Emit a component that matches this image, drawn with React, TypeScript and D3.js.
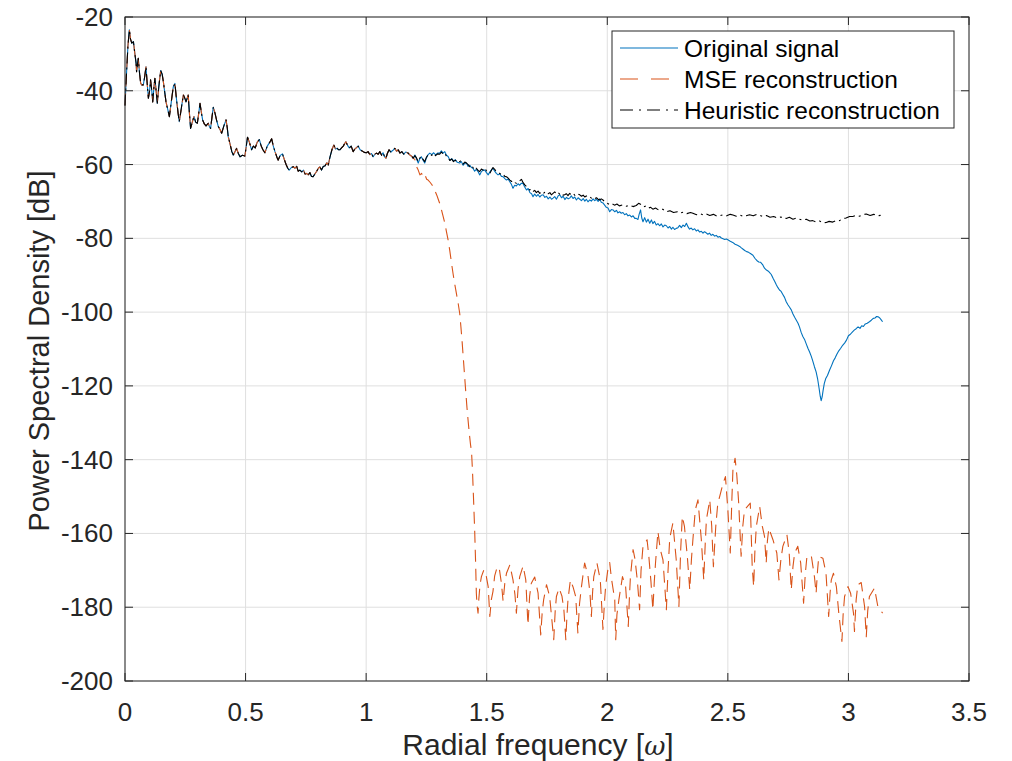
import React from "react";
import * as d3 from "d3";

type Pt = [number, number];

// Shared low-frequency portion (all three curves coincide here)
const sharedLowBand: Pt[] = [
  [0,-44],[0.005,-37],[0.012,-28],[0.018,-23.5],[0.023,-26],[0.028,-27.1],[0.035,-26.7],[0.041,-30],[0.046,-32.5],[0.048,-34.8],[0.055,-31.2],[0.060,-35],[0.065,-38],[0.070,-38.4],[0.076,-38.4],[0.082,-36],[0.087,-33.5],[0.092,-38],[0.097,-42],[0.102,-40],[0.106,-37],[0.111,-40],[0.115,-43],[0.120,-39],[0.124,-36.6],[0.129,-40],[0.134,-43.4],[0.140,-39],[0.148,-34.5],[0.154,-35.5],[0.159,-37.5],[0.165,-40.5],[0.170,-43],[0.177,-45],[0.184,-47],[0.192,-43],[0.200,-39],[0.207,-38],[0.213,-42],[0.220,-46],[0.225,-48.4],[0.233,-45],[0.242,-41.1],[0.248,-42],[0.253,-43],[0.258,-42],[0.262,-41.1],[0.267,-46],[0.272,-50.2],[0.279,-48.5],[0.286,-47],[0.293,-48.5],[0.300,-48.8],[0.306,-46],[0.311,-43.4],[0.317,-46],[0.322,-47.9],[0.329,-49],[0.336,-49.5],[0.345,-48.8],[0.350,-49.7],[0.355,-50.2],[0.361,-47],[0.366,-44.5],[0.373,-46],[0.380,-48],[0.387,-49.7],[0.394,-50.5],[0.401,-51.5],[0.410,-49.5],[0.419,-47.9],[0.424,-50],[0.428,-52.4],[0.436,-54.5],[0.443,-56.5],[0.449,-57.4],[0.456,-56.5],[0.463,-55.6],[0.470,-57],[0.477,-57.9],[0.487,-57.5],[0.497,-57.7],[0.503,-55],[0.508,-52.6],[0.516,-54],[0.525,-56],[0.532,-55],[0.540,-55.5],[0.548,-54],[0.557,-53.2],[0.565,-55],[0.572,-56],[0.580,-56.8],[0.590,-55],[0.600,-54],[0.608,-53],[0.615,-55],[0.622,-56.5],[0.630,-58],[0.635,-58.8],[0.644,-57.5],[0.653,-57.1],[0.660,-58.5],[0.668,-60],[0.675,-61],[0.681,-61.5],[0.690,-60.8],[0.698,-60.6],[0.705,-61],[0.712,-60.5],[0.718,-61.8],[0.725,-61.5],[0.733,-62],[0.740,-61.5],[0.747,-62.6],[0.753,-62.4],[0.760,-62.8],[0.767,-62.2],[0.773,-63.2],[0.780,-63.3],[0.788,-62.5],[0.795,-61.8],[0.802,-61],[0.808,-60.6],[0.815,-61.5],[0.822,-60.5],[0.830,-60.3],[0.837,-59.5],[0.843,-60.1],[0.850,-58],[0.858,-56],[0.866,-54.7],[0.873,-55.8],[0.880,-55.6],[0.886,-56],[0.891,-56],[0.898,-55.5],[0.905,-55],[0.911,-54.3],[0.916,-53.8],[0.923,-54.8],[0.930,-55.5],[0.938,-55],[0.946,-56.5],[0.953,-55.8],[0.960,-55.4],[0.967,-55],[0.975,-56],[0.983,-56.3],[0.992,-56.7],[1.001,-56.8],[1.008,-56.5],[1.015,-57.3],[1.022,-57],[1.029,-57.9],[1.036,-57.2],[1.043,-56.9],[1.050,-57.2],[1.057,-56.5],[1.064,-57.5],[1.070,-56.8],[1.076,-57.8],[1.082,-58.3],[1.088,-57],[1.095,-56],[1.102,-56.6],[1.110,-56.2],[1.119,-55.6],[1.126,-56.4],[1.133,-56],[1.140,-56.9],[1.148,-56.5],[1.156,-57.2],[1.164,-56.6],[1.174,-56.9],[1.183,-57.5],[1.190,-57.8],[1.195,-58.3],
];

const originalHigh: Pt[] = [
  [1.202,-57.4],[1.209,-58.5],[1.216,-59.6],[1.222,-58.5],[1.229,-57.9],[1.236,-58.8],[1.243,-59.6],[1.250,-58.2],[1.257,-57.3],[1.264,-56.9],[1.272,-57.3],[1.280,-56.8],[1.288,-57.4],[1.296,-56.9],[1.305,-56.9],[1.312,-56.3],[1.319,-56.9],[1.326,-56.5],[1.333,-57.5],[1.340,-57.8],[1.347,-58.8],[1.355,-58.4],[1.362,-59],[1.370,-58.7],[1.378,-59.4],[1.388,-59.6],[1.395,-59.2],[1.402,-60.2],[1.409,-59.6],[1.416,-59.6],[1.423,-60.5],[1.430,-60.2],[1.437,-60.8],[1.443,-61],[1.450,-61.8],[1.457,-61.3],[1.464,-61.9],[1.471,-62.8],[1.478,-61.9],[1.485,-61.5],[1.492,-61.5],[1.499,-62.2],[1.506,-62.8],[1.513,-62],[1.520,-61.4],[1.526,-61],[1.533,-61.8],[1.540,-62.4],[1.547,-62.8],[1.554,-62.5],[1.561,-63.2],[1.568,-63.3],[1.575,-63.8],[1.582,-64.2],[1.589,-63.9],[1.595,-64.6],[1.602,-65.3],[1.609,-66.4],[1.616,-65.6],[1.623,-65.8],[1.630,-65.2],[1.637,-65.6],[1.643,-65.1],[1.650,-65.1],[1.657,-66],[1.665,-66.9],[1.672,-66.5],[1.679,-67.6],[1.686,-67.9],[1.692,-68.7],[1.699,-68],[1.706,-68.6],[1.713,-68.1],[1.720,-68.8],[1.727,-68.3],[1.734,-68.2],[1.741,-68.9],[1.748,-68.6],[1.755,-69.3],[1.762,-68.8],[1.769,-69.4],[1.775,-69.1],[1.782,-68.7],[1.789,-69.4],[1.796,-68.5],[1.803,-68.2],[1.810,-69],[1.817,-68.6],[1.824,-69.5],[1.831,-68.9],[1.838,-69.3],[1.844,-69.1],[1.851,-68.5],[1.858,-69.2],[1.865,-68.8],[1.872,-69.6],[1.879,-69],[1.886,-69.4],[1.893,-69.8],[1.900,-69.2],[1.907,-69.9],[1.913,-69.4],[1.920,-70.1],[1.927,-69.6],[1.934,-69.9],[1.941,-69.3],[1.948,-69.8],[1.955,-69.4],[1.962,-70],[1.968,-69.3],[1.975,-70.2],[1.982,-70.4],[1.989,-71],[1.996,-71.6],[2.003,-71.8],[2.010,-72.8],[2.017,-72.2],[2.024,-72.3],[2.031,-72.8],[2.038,-72.4],[2.044,-73.1],[2.051,-72.8],[2.058,-73.2],[2.065,-73],[2.072,-73.6],[2.079,-73.3],[2.086,-73.9],[2.093,-73.7],[2.100,-74.2],[2.107,-73.9],[2.114,-74.6],[2.120,-74.6],[2.127,-74.9],[2.132,-73.5],[2.138,-72.3],[2.143,-74.5],[2.148,-75.5],[2.155,-74.4],[2.162,-75.6],[2.169,-74.8],[2.176,-75.9],[2.183,-75],[2.189,-76],[2.196,-75.4],[2.203,-76.4],[2.210,-76],[2.217,-76.6],[2.224,-76.1],[2.231,-76.9],[2.238,-76.4],[2.245,-76.6],[2.252,-77.2],[2.259,-76.8],[2.266,-77.5],[2.272,-77],[2.279,-77.6],[2.286,-77.3],[2.293,-77.1],[2.300,-76.5],[2.307,-77.1],[2.314,-76.4],[2.321,-76.8],[2.328,-75.9],[2.335,-76.9],[2.341,-77.5],[2.348,-77.2],[2.355,-77.7],[2.362,-77.4],[2.369,-78],[2.376,-77.7],[2.383,-78.3],[2.390,-78.1],[2.397,-78.6],[2.403,-78.2],[2.410,-78.5],[2.417,-78.9],[2.424,-78.6],[2.431,-79.2],[2.438,-78.9],[2.445,-79.4],[2.452,-79.2],[2.459,-79.7],[2.466,-79.5],[2.473,-79.9],[2.480,-80.1],[2.487,-80.3],[2.494,-80.2],[2.500,-80.4],[2.510,-80.8],[2.520,-81.1],[2.530,-81.6],[2.540,-81.9],[2.549,-82.2],[2.556,-82.6],[2.562,-82.9],[2.570,-83.3],[2.578,-83.6],[2.586,-83.8],[2.595,-84.2],[2.604,-84.6],[2.612,-85.4],[2.620,-86],[2.628,-86.4],[2.636,-86.5],[2.645,-87.2],[2.652,-88.1],[2.660,-88.6],[2.668,-88.9],[2.675,-89.4],[2.680,-89.8],[2.688,-90.9],[2.695,-91.8],[2.701,-92.6],[2.707,-93.3],[2.714,-94],[2.721,-94.4],[2.728,-95.2],[2.735,-96],[2.742,-97.2],[2.749,-98],[2.756,-98.7],[2.763,-99.4],[2.770,-100.5],[2.777,-101.4],[2.784,-102.2],[2.791,-103],[2.797,-104],[2.804,-105.5],[2.811,-106.6],[2.818,-107.4],[2.825,-108.6],[2.832,-109.8],[2.839,-110.8],[2.846,-112],[2.852,-113.2],[2.859,-114.8],[2.866,-116.2],[2.872,-118],[2.878,-120.5],[2.883,-122.8],[2.887,-124],[2.891,-123],[2.895,-121.2],[2.900,-119.3],[2.906,-118],[2.913,-117.2],[2.922,-115.7],[2.930,-114.5],[2.938,-113.2],[2.945,-112.4],[2.952,-111.4],[2.960,-110.5],[2.968,-109.8],[2.976,-109],[2.984,-108.4],[2.992,-107.6],[3.000,-106.4],[3.008,-106],[3.016,-105.4],[3.024,-104.9],[3.032,-104.5],[3.040,-104],[3.048,-104.4],[3.055,-103.7],[3.062,-103.9],[3.070,-103.2],[3.078,-103],[3.087,-102.6],[3.095,-102.2],[3.103,-101.7],[3.110,-101.6],[3.117,-101.2],[3.124,-101.3],[3.130,-101.6],[3.136,-102.1],[3.1416,-102.6],
];

const mseHigh: Pt[] = [
  [1.202,-58.6],[1.209,-60.6],[1.216,-61.5],[1.223,-62.8],[1.230,-62.4],[1.237,-63.4],[1.244,-62.8],[1.251,-64],[1.257,-64.2],[1.265,-64.8],[1.272,-65.4],[1.278,-66],[1.286,-67.2],[1.293,-68.3],[1.300,-69.6],[1.305,-70.5],[1.312,-72.2],[1.319,-74],[1.326,-75.8],[1.333,-78.2],[1.340,-80.5],[1.347,-83.4],[1.354,-86.7],[1.361,-89.8],[1.368,-92.6],[1.375,-95.2],[1.382,-97.8],[1.388,-100.3],[1.393,-104],[1.398,-108],[1.403,-112.5],[1.408,-117],[1.413,-121.5],[1.418,-125.8],[1.423,-129.5],[1.428,-133],[1.433,-136],[1.437,-137.8],[1.441,-143],[1.445,-150],[1.450,-159],[1.454,-168],[1.457,-176.2],[1.460,-179.5],[1.464,-181.6],
  [1.467,-178],[1.472,-174],[1.478,-171.7],[1.488,-169.9],[1.497,-171.2],[1.506,-174.4],[1.513,-182.5],[1.519,-178],[1.526,-175.7],[1.533,-171.5],[1.540,-169.9],[1.551,-169],[1.561,-173.5],[1.568,-178.4],[1.575,-173.5],[1.582,-170.8],[1.596,-168.5],[1.609,-172.6],[1.617,-176.5],[1.623,-181.6],[1.630,-175],[1.637,-171.7],[1.651,-168.8],[1.662,-172.6],[1.671,-184.8],[1.678,-177],[1.685,-173.5],[1.699,-171.8],[1.713,-176.2],[1.724,-187.5],[1.730,-181.5],[1.736,-178],[1.748,-173.9],[1.761,-177.1],[1.778,-188.8],[1.784,-181],[1.789,-177.1],[1.800,-174.8],[1.812,-177],[1.820,-180.7],[1.828,-188.8],[1.833,-182],[1.837,-178],[1.847,-172.6],[1.858,-174.5],[1.869,-177.1],[1.878,-187],[1.885,-179],[1.893,-174.4],[1.906,-168],[1.920,-171.5],[1.928,-176],[1.934,-182.5],[1.939,-176],[1.944,-171.7],[1.957,-168],[1.971,-172.6],[1.982,-186],[1.988,-179],[1.993,-174.4],[2.003,-169.5],[2.010,-167.9],[2.017,-172.1],[2.031,-178],[2.035,-188.8],[2.040,-182],[2.048,-178],[2.063,-171.7],[2.076,-174.4],[2.087,-185.2],[2.092,-177],[2.096,-171.7],[2.107,-164.4],[2.115,-167],[2.125,-173],[2.134,-180.7],[2.140,-170],[2.148,-163.5],[2.165,-161.7],[2.172,-166],[2.181,-173],[2.189,-180.7],[2.195,-173],[2.200,-168],[2.210,-159.5],[2.220,-164.4],[2.231,-167.2],[2.245,-180.7],[2.252,-170],[2.259,-161.3],[2.272,-157.2],[2.286,-167.2],[2.297,-179.8],[2.304,-165],[2.311,-155.4],[2.320,-158.1],[2.332,-166.3],[2.342,-175.3],[2.349,-167],[2.355,-161.7],[2.365,-153.6],[2.376,-150.9],[2.390,-161.7],[2.400,-172.6],[2.406,-163],[2.411,-156.3],[2.425,-150.9],[2.433,-158],[2.440,-169],[2.450,-158],[2.458,-152],[2.466,-150],[2.480,-146.4],[2.490,-144.6],[2.500,-153.6],[2.510,-165.3],[2.516,-152],[2.521,-142.8],[2.530,-139.6],[2.537,-144.1],[2.545,-151.8],[2.555,-166.2],[2.562,-158],[2.569,-153.6],[2.593,-151.8],[2.601,-169],[2.607,-174.4],[2.612,-165],[2.618,-158.1],[2.632,-152.7],[2.643,-158.1],[2.652,-160.8],[2.659,-168],[2.664,-162],[2.670,-158.6],[2.687,-161.7],[2.703,-165.3],[2.712,-172.6],[2.720,-167],[2.728,-163.5],[2.745,-160.4],[2.754,-165],[2.763,-175.3],[2.770,-169],[2.777,-165.3],[2.790,-163.5],[2.802,-168],[2.814,-178.9],[2.821,-171],[2.828,-166.2],[2.846,-166],[2.859,-171.7],[2.866,-176.2],[2.872,-170],[2.877,-166.2],[2.894,-166.7],[2.907,-170.8],[2.918,-182.5],[2.924,-176],[2.929,-172.6],[2.938,-170.8],[2.950,-174.4],[2.960,-181.6],[2.973,-189.3],[2.978,-182],[2.984,-177.1],[2.998,-174.4],[3.009,-176.2],[3.021,-181.6],[3.025,-186.6],[3.032,-178],[3.039,-173.9],[3.053,-173.3],[3.067,-179.8],[3.074,-188],[3.080,-181],[3.087,-177.1],[3.108,-174.8],[3.122,-179.8],[3.1416,-181.6],
];

const heuristicHigh: Pt[] = [
  [1.202,-57.6],[1.209,-58.2],[1.216,-59.2],[1.222,-58.3],[1.229,-57.7],[1.236,-58.6],[1.243,-59.2],[1.250,-58],[1.257,-57.3],[1.264,-57.1],[1.272,-57.5],[1.280,-56.9],[1.288,-57.6],[1.296,-57.1],[1.305,-57.2],[1.312,-56.6],[1.319,-57.1],[1.326,-56.8],[1.333,-57.8],[1.340,-58.1],[1.347,-58.9],[1.355,-58.5],[1.362,-59.2],[1.370,-58.8],[1.378,-59.5],[1.388,-59.2],[1.395,-58.9],[1.402,-59.9],[1.409,-59.3],[1.416,-59.6],[1.423,-60],[1.430,-60.6],[1.437,-60.1],[1.443,-60.8],[1.450,-61.5],[1.457,-61],[1.464,-61.6],[1.471,-61.9],[1.478,-61.2],[1.485,-61.5],[1.492,-60.9],[1.499,-61.7],[1.506,-62.1],[1.513,-62.4],[1.520,-61.5],[1.526,-60.8],[1.533,-61.3],[1.540,-61.9],[1.547,-62.2],[1.554,-62.4],[1.561,-62.8],[1.568,-62.6],[1.575,-63.2],[1.582,-63.3],[1.589,-63.7],[1.596,-64.2],[1.603,-64.6],[1.610,-64.3],[1.617,-64.9],[1.623,-65.1],[1.630,-64.6],[1.637,-64.4],[1.644,-64],[1.651,-64.9],[1.658,-65.5],[1.665,-66],[1.671,-66.4],[1.678,-66.9],[1.685,-66.6],[1.692,-67.3],[1.699,-67],[1.706,-67.6],[1.713,-67.2],[1.720,-67.8],[1.727,-67.4],[1.734,-67.9],[1.741,-67.5],[1.748,-67.3],[1.755,-67.9],[1.762,-67.6],[1.768,-68.2],[1.775,-67.8],[1.782,-67.4],[1.789,-68],[1.796,-67.6],[1.803,-68],[1.810,-67.7],[1.817,-68.3],[1.823,-68.2],[1.830,-67.9],[1.837,-68.4],[1.844,-67.8],[1.851,-68.2],[1.858,-67.8],[1.865,-68.3],[1.872,-68.5],[1.879,-68],[1.886,-68.2],[1.893,-68.6],[1.900,-68.3],[1.907,-68.8],[1.913,-68.5],[1.920,-68.9],[1.927,-68.7],[1.934,-69.1],[1.941,-68.8],[1.948,-69.2],[1.955,-69],[1.962,-69.4],[1.968,-69.6],[1.975,-69.3],[1.982,-69.6],[1.990,-70.1],[2.000,-70.5],[2.010,-70.9],[2.020,-70.6],[2.030,-71],[2.040,-70.7],[2.050,-71.2],[2.065,-70.9],[2.080,-71.3],[2.093,-71],[2.107,-71.4],[2.120,-71.1],[2.130,-70.5],[2.141,-70.9],[2.150,-71.5],[2.160,-71.2],[2.170,-71.8],[2.180,-71.6],[2.189,-72.1],[2.200,-71.8],[2.215,-72.4],[2.230,-72.1],[2.245,-72.8],[2.260,-72.5],[2.275,-73],[2.290,-72.8],[2.300,-73.2],[2.315,-72.9],[2.330,-73.3],[2.345,-73],[2.355,-73.2],[2.370,-73.6],[2.385,-73.3],[2.400,-73.7],[2.410,-73.4],[2.425,-73.8],[2.440,-73.5],[2.455,-74],[2.466,-73.9],[2.480,-73.6],[2.495,-73.9],[2.510,-73.5],[2.521,-73.7],[2.535,-74],[2.550,-73.7],[2.565,-74.1],[2.576,-73.9],[2.590,-73.6],[2.605,-73.9],[2.620,-73.5],[2.632,-73.7],[2.645,-74.1],[2.660,-73.8],[2.675,-74.3],[2.690,-74.1],[2.705,-74.5],[2.720,-74.2],[2.730,-74.6],[2.742,-74.6],[2.755,-74.3],[2.770,-74.8],[2.785,-74.5],[2.797,-74.8],[2.810,-75.1],[2.825,-74.8],[2.840,-75.3],[2.852,-75.2],[2.865,-75.6],[2.880,-75.3],[2.895,-75.8],[2.908,-75.7],[2.920,-75.4],[2.935,-75.6],[2.950,-75.1],[2.963,-75.2],[2.975,-74.7],[2.990,-74.5],[3.005,-74.1],[3.018,-74.1],[3.030,-73.8],[3.045,-74],[3.060,-73.6],[3.074,-73.4],[3.090,-73.8],[3.105,-73.5],[3.120,-73.9],[3.1416,-73.7],
];

const xTicks = [0, 0.5, 1, 1.5, 2, 2.5, 3, 3.5];
const yTicks = [-200, -180, -160, -140, -120, -100, -80, -60, -40, -20];
const seriesNames = ["Original signal", "MSE reconstruction", "Heuristic reconstruction"];
const seriesColors = ["#0072BD", "#D95319", "#000000"];
const seriesDash = ["none", "12,7", "11,4,2,4"];

const W = 1012, H = 761;
const M = { left: 125, right: 969, top: 17, bottom: 681 };
const FONT = "'Liberation Sans', Arial, Helvetica, sans-serif";

export default function App() {
  const x = d3.scaleLinear().domain([0, 3.5]).range([M.left, M.right]);
  const y = d3.scaleLinear().domain([-200, -20]).range([M.bottom, M.top]);
  const line = d3.line<Pt>().x(d => x(d[0])).y(d => y(d[1]));

  const series: Pt[][] = [
    [...sharedLowBand, ...originalHigh],
    [...sharedLowBand, ...mseHigh],
    [...sharedLowBand, ...heuristicHigh],
  ];

  const axisColor = "#262626";
  const tickLen = 8;
  const legX = 612, legY = 31, legW = 342, legH = 97;

  return (
    <svg width={W} height={H} style={{ position: "absolute", left: 0, top: 0, background: "#fff" }}>
      <rect x={0} y={0} width={W} height={H} fill="#fff" />
      {/* grid */}
      {xTicks.map(t => (
        <line key={"gx" + t} x1={x(t)} x2={x(t)} y1={M.top} y2={M.bottom} stroke="#dfdfdf" strokeWidth={1} />
      ))}
      {yTicks.map(t => (
        <line key={"gy" + t} x1={M.left} x2={M.right} y1={y(t)} y2={y(t)} stroke="#dfdfdf" strokeWidth={1} />
      ))}
      {/* data */}
      <g fill="none" strokeWidth={1.1} strokeLinejoin="round">
        {series.map((s, i) => (
          <path key={i} d={line(s) || ""} stroke={seriesColors[i]} strokeDasharray={seriesDash[i]} />
        ))}
      </g>
      {/* box */}
      <rect x={M.left} y={M.top} width={M.right - M.left} height={M.bottom - M.top} fill="none" stroke={axisColor} strokeWidth={1} />
      {/* ticks */}
      {xTicks.map(t => (
        <g key={"tx" + t}>
          <line x1={x(t)} x2={x(t)} y1={M.bottom} y2={M.bottom - tickLen} stroke={axisColor} />
          <line x1={x(t)} x2={x(t)} y1={M.top} y2={M.top + tickLen} stroke={axisColor} />
          <text x={x(t)} y={M.bottom + 40} textAnchor="middle" fontFamily={FONT} fontSize={26} fill="#262626">{String(t)}</text>
        </g>
      ))}
      {yTicks.map(t => (
        <g key={"ty" + t}>
          <line x1={M.left} x2={M.left + tickLen} y1={y(t)} y2={y(t)} stroke={axisColor} />
          <line x1={M.right} x2={M.right - tickLen} y1={y(t)} y2={y(t)} stroke={axisColor} />
          <text x={M.left - 12} y={y(t) + 9} textAnchor="end" fontFamily={FONT} fontSize={26} fill="#262626">{String(t)}</text>
        </g>
      ))}
      {/* axis labels */}
      <text x={538} y={755} textAnchor="middle" fontFamily={FONT} fontSize={30} fill="#262626">
        Radial frequency [<tspan fontFamily="'DejaVu Serif', 'Liberation Serif', serif" fontStyle="italic" fontSize={26}>ω</tspan>]
      </text>
      <text transform={`translate(49,${351}) rotate(-90)`} textAnchor="middle" fontFamily={FONT} fontSize={29} fill="#262626">
        Power Spectral Density [dB]
      </text>
      {/* legend */}
      <rect x={legX} y={legY} width={legW} height={legH} fill="#fff" stroke={axisColor} strokeWidth={1} />
      {seriesNames.map((n, i) => {
        const ly = legY + 17 + i * 31;
        return (
          <g key={n}>
            <line x1={legX + 8} x2={legX + 66} y1={ly} y2={ly} stroke={seriesColors[i]} strokeWidth={1.1}
              strokeDasharray={i === 1 ? "18,13" : i === 2 ? "13,6,2,6" : "none"} />
            <text x={legX + 72} y={ly + 8.5} fontFamily={FONT} fontSize={24.5} fill="#000">{n}</text>
          </g>
        );
      })}
    </svg>
  );
}
